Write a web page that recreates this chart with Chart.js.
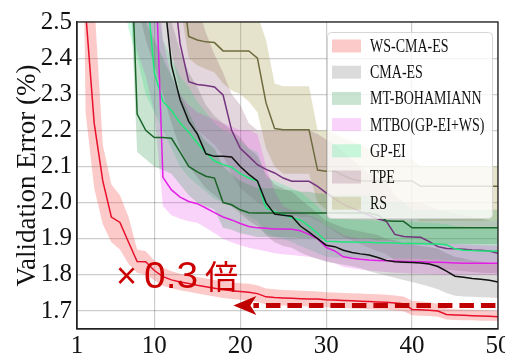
<!DOCTYPE html>
<html>
<head>
<meta charset="utf-8">
<script src="https://cdn.jsdelivr.net/npm/chart.js@4.4.0/dist/chart.umd.min.js"></script>
<style>
  html, body { margin: 0; padding: 0; background: #fff; overflow: hidden; }
  #wrap { position: absolute; left: 0; top: 0; width: 517px; height: 359px; }
</style>
</head>
<body>
<div id="wrap"><canvas id="chart" width="517" height="359"></canvas></div>
<script>
var epochs = [1, 2, 3, 4, 5, 6, 7, 8, 9, 10,
  11, 12, 13, 14, 15, 16, 17, 18, 19, 20,
  21, 22, 23, 24, 25, 26, 27, 28, 29, 30,
  31, 32, 33, 34, 35, 36, 37, 38, 39, 40,
  41, 42, 43, 44, 45, 46, 47, 48, 49, 50];
var xTicks = [1, 10, 20, 30, 40, 50];
var yTicks = [1.7, 1.8, 1.9, 2.0, 2.1, 2.2, 2.3, 2.4, 2.5];
var seriesNames = ['WS-CMA-ES', 'CMA-ES', 'MT-BOHAMIANN', 'MTBO(GP-EI+WS)', 'GP-EI', 'TPE', 'RS'];

// mean curves and shaded ranges, one value per epoch
var wsCmaEs = [3.60, 2.53, 2.22, 2.06, 1.96, 1.945, 1.89, 1.837, 1.836, 1.812,
  1.795, 1.786, 1.780, 1.776, 1.771, 1.767, 1.763, 1.759, 1.756, 1.754,
  1.752, 1.748, 1.739, 1.737, 1.736, 1.735, 1.734, 1.733, 1.733, 1.731,
  1.730, 1.729, 1.728, 1.727, 1.726, 1.725, 1.724, 1.722, 1.720, 1.704,
  1.703, 1.702, 1.700, 1.690, 1.689, 1.688, 1.687, 1.686, 1.685, 1.684];
var wsCmaEsLo = [4.00, 2.25, 2.04, 1.94, 1.89, 1.87, 1.83, 1.805, 1.80, 1.785,
  1.770, 1.763, 1.757, 1.753, 1.748, 1.744, 1.740, 1.736, 1.733, 1.731,
  1.729, 1.725, 1.718, 1.716, 1.715, 1.714, 1.713, 1.712, 1.712, 1.710,
  1.709, 1.708, 1.707, 1.706, 1.705, 1.704, 1.703, 1.701, 1.699, 1.688,
  1.687, 1.686, 1.684, 1.676, 1.675, 1.674, 1.674, 1.673, 1.673, 1.672];
var wsCmaEsHi = [4.40, 2.85, 2.56, 2.16, 2.05, 2.02, 1.96, 1.87, 1.865, 1.84,
  1.820, 1.810, 1.803, 1.798, 1.794, 1.790, 1.786, 1.782, 1.779, 1.777,
  1.775, 1.771, 1.762, 1.760, 1.758, 1.757, 1.756, 1.755, 1.754, 1.752,
  1.751, 1.750, 1.749, 1.748, 1.747, 1.746, 1.745, 1.743, 1.740, 1.728,
  1.726, 1.724, 1.720, 1.707, 1.705, 1.704, 1.703, 1.702, 1.701, 1.700];

var cmaEs = [4.0, 3.9, 3.8, 3.7, 3.6, 3.5, 3.4, 3.3, 3.2, 3.0,
  2.60, 2.38, 2.285, 2.225, 2.19, 2.135, 2.128, 2.128, 2.126, 2.10,
  2.078, 2.06, 2.00, 1.968, 1.965, 1.962, 1.935, 1.918, 1.90, 1.882,
  1.878, 1.868, 1.862, 1.858, 1.855, 1.848, 1.840, 1.836, 1.835, 1.834,
  1.833, 1.830, 1.823, 1.810, 1.796, 1.793, 1.790, 1.788, 1.785, 1.780];
var cmaEsLo = [3.6, 3.4, 3.2, 3.0, 2.9, 2.75, 2.62, 2.55, 2.45, 2.38,
  2.30, 2.22, 2.15, 2.10, 2.07, 2.04, 2.02, 2.00, 1.99, 1.97,
  1.95, 1.935, 1.91, 1.89, 1.88, 1.875, 1.862, 1.852, 1.844, 1.836,
  1.832, 1.828, 1.824, 1.818, 1.810, 1.804, 1.798, 1.792, 1.786, 1.780,
  1.774, 1.768, 1.760, 1.750, 1.742, 1.740, 1.739, 1.738, 1.737, 1.736];
var cmaEsHi = [4.4, 4.3, 4.2, 4.1, 4.0, 3.8, 3.4, 3.0, 2.85, 2.70,
  2.60, 2.50, 2.42, 2.36, 2.32, 2.27, 2.24, 2.22, 2.20, 2.18,
  2.15, 2.13, 2.08, 2.05, 2.04, 2.03, 2.01, 1.99, 1.97, 1.95,
  1.94, 1.93, 1.925, 1.92, 1.915, 1.91, 1.90, 1.895, 1.89, 1.885,
  1.88, 1.877, 1.872, 1.86, 1.85, 1.845, 1.84, 1.837, 1.833, 1.83];

var mtBohamiann = [4.0, 3.9, 3.8, 3.6, 3.4, 3.2, 2.90, 2.245, 2.20, 2.18,
  2.18, 2.178, 2.14, 2.10, 2.085, 2.073, 2.068, 2.00, 1.994, 1.98,
  1.972, 1.971, 1.971, 1.971, 1.971, 1.971, 1.971, 1.971, 1.971, 1.971,
  1.971, 1.971, 1.971, 1.971, 1.971, 1.965, 1.950, 1.948, 1.948, 1.930,
  1.930, 1.930, 1.930, 1.930, 1.930, 1.930, 1.930, 1.930, 1.930, 1.930];
var mtBohamiannLo = [3.6, 3.4, 3.2, 3.1, 3.0, 2.9, 2.7, 2.14, 2.12, 2.10,
  2.09, 2.08, 2.05, 2.02, 2.00, 1.99, 1.98, 1.93, 1.925, 1.915,
  1.91, 1.905, 1.905, 1.905, 1.904, 1.903, 1.902, 1.902, 1.901, 1.90,
  1.90, 1.90, 1.90, 1.90, 1.90, 1.895, 1.895, 1.893, 1.892, 1.885,
  1.885, 1.885, 1.885, 1.885, 1.885, 1.885, 1.885, 1.885, 1.885, 1.885];
var mtBohamiannHi = [4.6, 4.4, 4.2, 4.0, 3.8, 3.5, 3.0, 2.60, 2.50, 2.45,
  2.40, 2.35, 2.30, 2.25, 2.20, 2.17, 2.15, 2.10, 2.08, 2.06,
  2.05, 2.04, 2.04, 2.04, 2.035, 2.035, 2.03, 2.03, 2.025, 2.025,
  2.02, 2.02, 2.02, 2.02, 2.02, 2.01, 2.00, 2.00, 2.00, 1.98,
  1.98, 1.98, 1.98, 1.98, 1.98, 1.98, 1.98, 1.98, 1.98, 1.98];

var mtbo = [4.0, 3.9, 3.8, 3.7, 3.6, 3.5, 3.4, 3.2, 3.0, 2.75,
  2.07, 2.035, 2.015, 2.003, 1.997, 1.985, 1.972, 1.96, 1.952, 1.942,
  1.934, 1.930, 1.929, 1.927, 1.927, 1.926, 1.922, 1.912, 1.90, 1.876,
  1.866, 1.850, 1.846, 1.843, 1.841, 1.840, 1.839, 1.838, 1.837, 1.836,
  1.836, 1.835, 1.835, 1.834, 1.833, 1.832, 1.832, 1.832, 1.832, 1.832];
var mtboLo = [3.2, 3.1, 3.0, 2.9, 2.8, 2.7, 2.55, 2.42, 2.35, 2.25,
  1.99, 1.965, 1.955, 1.948, 1.944, 1.93, 1.915, 1.90, 1.89, 1.882,
  1.875, 1.87, 1.865, 1.86, 1.857, 1.855, 1.852, 1.85, 1.845, 1.838,
  1.832, 1.822, 1.818, 1.815, 1.812, 1.81, 1.808, 1.806, 1.805, 1.804,
  1.803, 1.802, 1.801, 1.80, 1.80, 1.80, 1.80, 1.80, 1.80, 1.80];
var mtboHi = [4.4, 4.2, 4.0, 3.8, 3.6, 3.4, 3.2, 3.0, 2.9, 2.8,
  2.45, 2.35, 2.30, 2.27, 2.25, 2.24, 2.23, 2.22, 2.21, 2.20,
  2.20, 2.19, 2.10, 2.03, 1.99, 1.98, 1.975, 1.965, 1.955, 1.935,
  1.925, 1.91, 1.905, 1.90, 1.90, 1.898, 1.896, 1.894, 1.892, 1.89,
  1.89, 1.888, 1.887, 1.886, 1.885, 1.884, 1.883, 1.882, 1.881, 1.88];

var gpEi = [4.0, 3.9, 3.8, 3.7, 3.6, 3.5, 3.3, 3.0, 2.62, 2.36,
  2.28, 2.255, 2.22, 2.195, 2.165, 2.138, 2.115, 2.105, 2.098, 2.08,
  2.068, 2.06, 1.985, 1.975, 1.968, 1.958, 1.952, 1.935, 1.915, 1.893,
  1.892, 1.891, 1.891, 1.890, 1.890, 1.889, 1.889, 1.888, 1.887, 1.887,
  1.886, 1.885, 1.885, 1.883, 1.872, 1.868, 1.867, 1.866, 1.866, 1.866];
var gpEiLo = [3.2, 3.0, 2.9, 2.8, 2.7, 2.6, 2.48, 2.40, 2.30, 2.25,
  2.20, 2.15, 2.10, 2.07, 2.05, 2.03, 2.01, 2.00, 1.99, 1.975,
  1.96, 1.95, 1.915, 1.905, 1.90, 1.89, 1.88, 1.87, 1.86, 1.85,
  1.848, 1.848, 1.847, 1.847, 1.846, 1.846, 1.845, 1.845, 1.845, 1.845,
  1.844, 1.843, 1.842, 1.84, 1.838, 1.837, 1.836, 1.836, 1.835, 1.835];
var gpEiHi = [4.6, 4.4, 4.2, 4.0, 3.8, 3.6, 3.4, 3.2, 2.9, 2.6,
  2.45, 2.40, 2.35, 2.32, 2.28, 2.25, 2.22, 2.20, 2.19, 2.17,
  2.15, 2.14, 2.07, 2.06, 2.05, 2.04, 2.03, 2.01, 1.99, 1.96,
  1.955, 1.954, 1.953, 1.952, 1.951, 1.95, 1.949, 1.948, 1.947, 1.946,
  1.945, 1.944, 1.943, 1.94, 1.935, 1.933, 1.932, 1.931, 1.93, 1.93];

var tpe = [4.4, 4.3, 4.2, 4.1, 4.0, 3.9, 3.8, 3.6, 3.4, 3.2,
  3.0, 2.65, 2.44, 2.335, 2.327, 2.324, 2.32, 2.298, 2.20, 2.15,
  2.128, 2.105, 2.092, 2.082, 2.068, 2.059, 2.059, 2.059, 2.045, 2.027,
  2.01, 1.995, 1.985, 1.975, 1.965, 1.955, 1.948, 1.912, 1.906, 1.905,
  1.904, 1.892, 1.878, 1.873, 1.872, 1.871, 1.869, 1.868, 1.866, 1.86];
var tpeLo = [3.8, 3.6, 3.4, 3.2, 3.1, 3.0, 2.95, 2.9, 2.8, 2.7,
  2.56, 2.42, 2.30, 2.22, 2.20, 2.18, 2.16, 2.13, 2.08, 2.04,
  2.02, 2.00, 1.99, 1.98, 1.97, 1.965, 1.96, 1.96, 1.95, 1.935,
  1.92, 1.905, 1.895, 1.885, 1.875, 1.865, 1.858, 1.84, 1.835, 1.835,
  1.834, 1.83, 1.82, 1.815, 1.812, 1.81, 1.808, 1.806, 1.805, 1.805];
var tpeHi = [5.0, 4.8, 4.6, 4.4, 4.2, 4.0, 3.8, 3.6, 3.4, 3.3,
  3.2, 3.0, 2.85, 2.70, 2.55, 2.47, 2.41, 2.36, 2.30, 2.27,
  2.22, 2.20, 2.20, 2.20, 2.20, 2.20, 2.20, 2.20, 2.19, 2.175,
  2.16, 2.14, 2.12, 2.10, 2.08, 2.07, 2.06, 2.02, 2.00, 2.00,
  2.00, 1.99, 1.98, 1.975, 1.97, 1.965, 1.96, 1.955, 1.95, 1.95];

var rs = [4.6, 4.5, 4.4, 4.3, 4.2, 4.1, 4.0, 3.8, 3.6, 3.4,
  3.2, 3.0, 2.65, 2.46, 2.45, 2.445, 2.443, 2.42, 2.42, 2.42,
  2.42, 2.40, 2.276, 2.205, 2.202, 2.202, 2.202, 2.202, 2.09, 2.087,
  2.087, 2.075, 2.065, 2.06, 2.06, 2.06, 2.06, 2.06, 2.06, 2.06,
  2.045, 2.045, 2.045, 2.045, 2.045, 2.045, 2.045, 2.045, 2.045, 2.045];
var rsLo = [4.0, 3.9, 3.8, 3.7, 3.6, 3.5, 3.4, 3.2, 3.0, 2.9,
  2.8, 2.7, 2.55, 2.40, 2.38, 2.37, 2.36, 2.33, 2.31, 2.30,
  2.28, 2.25, 2.15, 2.10, 2.08, 2.08, 2.08, 2.08, 2.00, 1.98,
  1.97, 1.965, 1.96, 1.96, 1.96, 1.96, 1.96, 1.96, 1.96, 1.96,
  1.95, 1.95, 1.95, 1.95, 1.95, 1.95, 1.95, 1.95, 1.95, 1.95];
var rsHi = [5.2, 5.0, 4.8, 4.6, 4.4, 4.2, 4.0, 3.8, 3.6, 3.4,
  3.2, 3.1, 3.0, 2.85, 2.80, 2.75, 2.70, 2.66, 2.62, 2.60,
  2.57, 2.52, 2.45, 2.33, 2.322, 2.322, 2.322, 2.322, 2.20, 2.20,
  2.19, 2.18, 2.17, 2.16, 2.15, 2.14, 2.13, 2.12, 2.12, 2.12,
  2.10, 2.10, 2.10, 2.10, 2.10, 2.10, 2.10, 2.10, 2.10, 2.10];

var means = [wsCmaEs, cmaEs, mtBohamiann, mtbo, gpEi, tpe, rs];
var lows = [wsCmaEsLo, cmaEsLo, mtBohamiannLo, mtboLo, gpEiLo, tpeLo, rsLo];
var highs = [wsCmaEsHi, cmaEsHi, mtBohamiannHi, mtboHi, gpEiHi, tpeHi, rsHi];

var lineColors = ['#e8102a', '#111111', '#1a6428', '#e020e6', '#1ee87a', '#74347e', '#6e6c3e'];
var bandColors = ['rgba(250,80,80,0.3)', 'rgba(90,90,90,0.22)', 'rgba(40,150,70,0.25)',
  'rgba(235,70,235,0.24)', 'rgba(50,235,140,0.25)', 'rgba(130,70,100,0.22)', 'rgba(160,155,70,0.28)'];

function points(arr) {
  return epochs.map(function (e, i) { return { x: e, y: arr[i] }; });
}

var datasets = [];
for (var s = 0; s < seriesNames.length; s++) {
  datasets.push({
    label: seriesNames[s],
    data: points(means[s]),
    borderColor: lineColors[s],
    borderWidth: 1.5,
    pointRadius: 0,
    fill: false,
    order: 0
  });
}
for (var b = 0; b < seriesNames.length; b++) {
  datasets.push({
    label: seriesNames[b] + ' hi',
    data: points(highs[b]),
    borderWidth: 0,
    pointRadius: 0,
    backgroundColor: bandColors[b],
    fill: '+1',
    order: 1
  });
  datasets.push({
    label: seriesNames[b] + ' lo',
    data: points(lows[b]),
    borderWidth: 0,
    pointRadius: 0,
    fill: false,
    order: 1
  });
}

var overlay = {
  id: 'overlay',
  afterDatasetsDraw: function (chart) {
    var ctx = chart.ctx, xs = chart.scales.x, ys = chart.scales.y, a = chart.chartArea;
    ctx.save();
    ctx.strokeStyle = '#222';
    ctx.lineWidth = 1.3;
    ctx.strokeRect(a.left, a.top, a.right - a.left, a.bottom - a.top);

    // dashed arrow pointing back to where WS-CMA-ES reaches the final error
    var yA = ys.getPixelForValue(1.715);
    var xTip = xs.getPixelForValue(19.2);
    var xEnd = xs.getPixelForValue(49.7);
    ctx.strokeStyle = '#c00000';
    ctx.fillStyle = '#c00000';
    ctx.lineWidth = 5;
    ctx.setLineDash([14.5, 7]);
    ctx.beginPath();
    ctx.moveTo(xEnd, yA);
    ctx.lineTo(xTip + 20, yA);
    ctx.stroke();
    ctx.setLineDash([]);
    ctx.beginPath();
    ctx.moveTo(xTip, yA);
    ctx.lineTo(xTip + 23, yA - 9.5);
    ctx.lineTo(xTip + 17, yA);
    ctx.lineTo(xTip + 23, yA + 9.5);
    ctx.closePath();
    ctx.fill();

    // "×0.3倍" label
    var yT = ys.getPixelForValue(1.764);
    ctx.fillStyle = '#cc0000';
    ctx.textBaseline = 'alphabetic';
    ctx.font = '36px "Liberation Sans", Arial, sans-serif';
    ctx.fillText('\u00d7', xs.getPixelForValue(5.55), yT);
    ctx.save();
    ctx.translate(xs.getPixelForValue(8.8), yT);
    ctx.scale(1.08, 1);
    ctx.fillText('0.3', 0, 0);
    ctx.restore();
    ctx.font = '33px "Noto Sans CJK JP", sans-serif';
    ctx.fillText('\u500d', xs.getPixelForValue(15.9), yT + 1);
    ctx.restore();
  },
  afterDraw: function (chart) {
    var ctx = chart.ctx, a = chart.chartArea;
    var left = a.right - 171, top = a.top + 10, w = 165, h = 186;
    ctx.save();
    ctx.fillStyle = 'rgba(255,255,255,0.8)';
    ctx.strokeStyle = '#d6d6d6';
    ctx.lineWidth = 1;
    ctx.beginPath();
    ctx.roundRect(left + 0.5, top + 0.5, w, h, 4);
    ctx.fill();
    ctx.stroke();
    ctx.font = '14px "Liberation Serif", "Times New Roman", serif';
    ctx.textBaseline = 'alphabetic';
    for (var i = 0; i < seriesNames.length; i++) {
      var cy = top + 14 + i * 26.2;
      ctx.fillStyle = bandColors[i];
      ctx.fillRect(left + 5, cy - 6.5, 29, 13);
      ctx.fillStyle = '#111';
      ctx.save();
      ctx.translate(left + 43, cy + 6);
      ctx.scale(1, 1.3);
      ctx.fillText(seriesNames[i], 0, 0);
      ctx.restore();
    }
    ctx.restore();
  }
};

var serif = '"Liberation Serif", "Times New Roman", serif';

new Chart(document.getElementById('chart'), {
  type: 'line',
  data: { datasets: datasets },
  options: {
    responsive: false,
    animation: false,
    layout: { padding: { left: 0, top: 22, right: 19, bottom: 0 } },
    elements: { line: { tension: 0 } },
    plugins: {
      legend: { display: false },
      tooltip: { enabled: false },
      filler: { propagate: false }
    },
    scales: {
      x: {
        type: 'linear',
        min: 1,
        max: 50,
        afterBuildTicks: function (scale) {
          scale.ticks = xTicks.map(function (v) { return { value: v }; });
        },
        afterFit: function (scale) { scale.height = 30; },
        ticks: {
          autoSkip: false,
          maxRotation: 0,
          padding: 2,
          color: '#111',
          font: { family: serif, size: 25 },
          callback: function (v) { return String(v); }
        },
        grid: { color: 'rgba(0,0,0,0.2)', lineWidth: 1.2, drawTicks: false },
        border: { color: '#222', width: 1.3 }
      },
      y: {
        type: 'linear',
        min: 1.65,
        max: 2.5,
        afterBuildTicks: function (scale) {
          scale.ticks = yTicks.map(function (v) { return { value: v }; });
        },
        afterFit: function (scale) { scale.width = 77; },
        ticks: {
          padding: 5,
          color: '#111',
          font: { family: serif, size: 25 },
          callback: function (v) { return v.toFixed(1); }
        },
        title: {
          display: true,
          text: 'Validation Error (%)',
          color: '#111',
          font: { family: serif, size: 27, lineHeight: 1 },
          padding: { top: 14, bottom: 0 }
        },
        grid: { color: 'rgba(0,0,0,0.2)', lineWidth: 1.2, drawTicks: false },
        border: { color: '#222', width: 1.3 }
      }
    }
  },
  plugins: [overlay]
});
</script>
</body>
</html>
